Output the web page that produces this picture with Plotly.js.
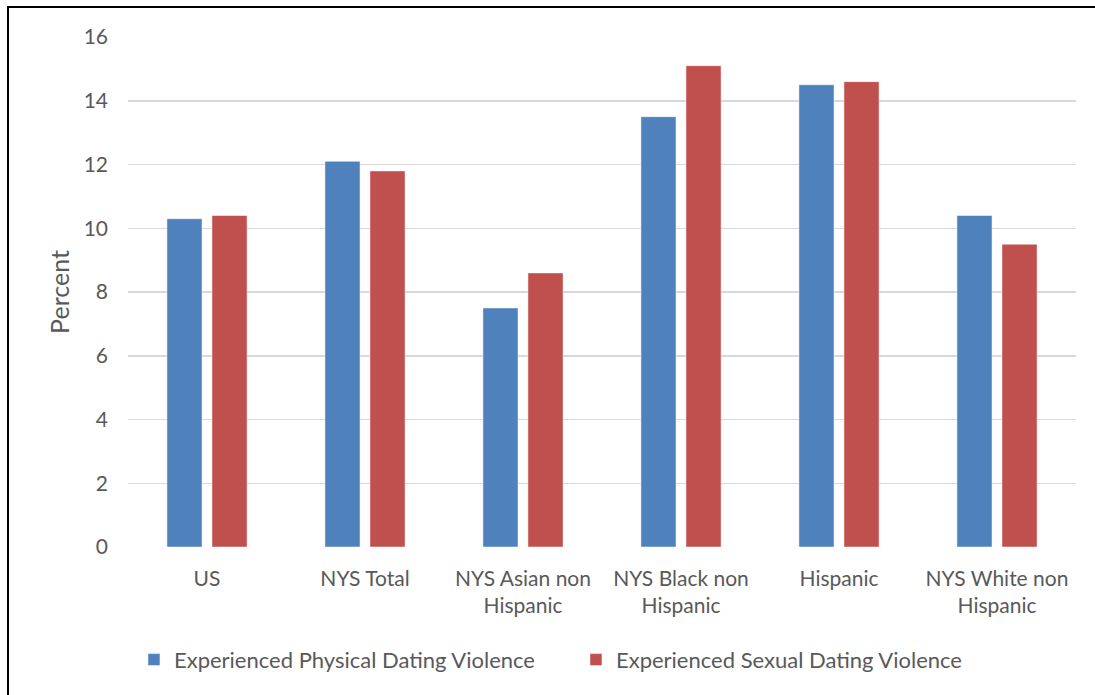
<!DOCTYPE html>
<html>
<head>
<meta charset="utf-8">
<script src="https://cdn.plot.ly/plotly-3.0.1.min.js"></script>
<style>
  html, body { margin: 0; padding: 0; background: #fff; overflow: hidden; }
  #chart { width: 1095px; height: 695px; }
  #frame { position: absolute; left: 7px; top: 6px; width: 1200px; height: 800px;
           border: 2px solid #000; pointer-events: none; }
</style>
</head>
<body>
<div id="chart"></div>
<div id="frame"></div>
<script>
const categories = ["US", "NYS Total", "NYS Asian non<br>Hispanic", "NYS Black non<br>Hispanic", "Hispanic", "NYS White non<br>Hispanic"];
const physical = [10.3, 12.1, 7.5, 13.5, 14.5, 10.4];
const sexual = [10.4, 11.8, 8.6, 15.1, 14.6, 9.5];
const seriesNames = ["Experienced Physical Dating Violence", "Experienced Sexual Dating Violence"];
const yTicks = [0, 2, 4, 6, 8, 10, 12, 14, 16];

const font = "Lato, Noto Sans, sans-serif";
const grey = "#595959";

const traces = [
  { type: "bar", x: categories, y: physical, name: seriesNames[0],
    marker: { color: "#4F81BD", line: { color: "#ffffff", width: 0.5 } } },
  { type: "bar", x: categories, y: sexual, name: seriesNames[1],
    marker: { color: "#C0504D", line: { color: "#ffffff", width: 0.5 } } }
];

const layout = {
  width: 1095, height: 695,
  margin: { l: 128, r: 19, t: 37, b: 148, autoexpand: false },
  paper_bgcolor: "#fff", plot_bgcolor: "#fff",
  barmode: "group", bargap: 0.43, bargroupgap: 0.22,
  font: { family: font, size: 21, color: grey },
  xaxis: { type: "category", showgrid: false, zeroline: false, showline: false, automargin: false,
           ticks: "", ticklabelstandoff: 17, tickfont: { family: font, size: 21, color: grey } },
  yaxis: { range: [0, 16], tickvals: yTicks, ticktext: yTicks.map(String), automargin: false,
           showgrid: true, gridcolor: "#D9D9D9", gridwidth: 1.5, zeroline: false, showline: false,
           ticks: "", ticklabelstandoff: 19, tickfont: { family: font, size: 21, color: grey } },
  showlegend: true,
  legend: { orientation: "h", x: 0.0063, xanchor: "left", y: -0.18, yanchor: "top",
            font: { family: font, size: 22, color: grey }, traceorder: "normal",
            itemwidth: 30, entrywidth: 397, entrywidthmode: "pixels" },
  hovermode: false
};

Plotly.newPlot("chart", traces, layout, { displayModeBar: false, staticPlot: true }).then(function (gd) {
  Plotly.relayout(gd, { "yaxis.title": { text: "Percent", standoff: 6, font: { family: font, size: 25, color: grey } } });
});
</script>
</body>
</html>
